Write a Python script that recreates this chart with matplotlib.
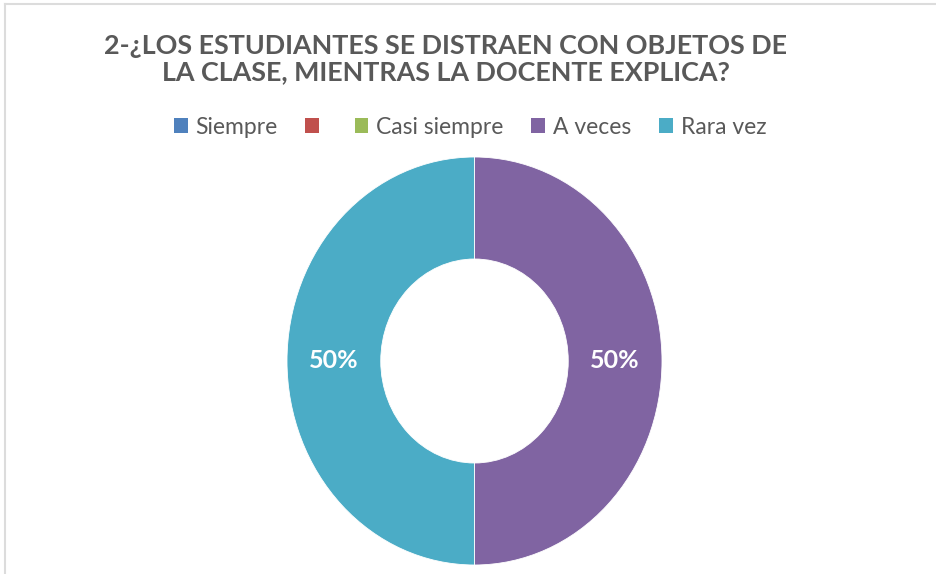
import matplotlib
matplotlib.use("Agg")
import matplotlib.pyplot as plt
from matplotlib.lines import Line2D
from matplotlib.patches import Patch

categories = ["Siempre", "", "Casi siempre", "A veces", "Rara vez"]
values = [0, 0, 0, 50, 50]
colors = ["#4F81BD", "#C0504D", "#9BBB59", "#8064A2", "#4BACC6"]
title = "2-¿LOS ESTUDIANTES SE DISTRAEN CON OBJETOS DE\nLA CLASE, MIENTRAS LA DOCENTE EXPLICA?"

plt.rcParams["font.family"] = ["Lato", "DejaVu Sans"]

W, H = 937, 574
fig = plt.figure(figsize=(W / 100, H / 100), dpi=100)

# chart area frame (top and left edges)
fig.add_artist(Line2D([5 / W, 5 / W], [0, 1 - 4 / H], color="#dcdcdc", lw=1.5,
                      transform=fig.transFigure))
fig.add_artist(Line2D([5 / W, 1], [1 - 4 / H, 1 - 4 / H], color="#dcdcdc", lw=1.5,
                      transform=fig.transFigure))

# doughnut: plot area is taller than wide, so the ring is an ellipse
ax = fig.add_axes([287 / W, 9 / H, 375 / W, 408 / H])
nz = [(v, c) for v, c in zip(values, colors) if v > 0]
wedges, _, autotexts = ax.pie(
    [v for v, _ in nz],
    colors=[c for _, c in nz],
    startangle=90,
    counterclock=False,
    radius=1,
    wedgeprops=dict(width=0.5, edgecolor="white", linewidth=0.6),
    autopct=lambda p: f"{p:.0f}%",
    pctdistance=0.75,
)
for t in autotexts:
    t.set_color("white")
    t.set_fontsize(18)
    t.set_fontweight("bold")
ax.set_aspect("auto")
ax.set_xlim(-1, 1)
ax.set_ylim(-1, 1)
ax.axis("off")

fig.text(446 / W, 1 - 59 / H, title, ha="center", va="center",
         fontsize=19.4, fontweight="bold", color="#595959", linespacing=1.15)

handles = [Patch(facecolor=c, edgecolor="none") for c in colors]
fig.legend(handles, categories, loc="center", bbox_to_anchor=(470 / W, 1 - 127 / H),
           ncol=5, frameon=False, fontsize=16.5, handlelength=0.6, handleheight=0.6,
           handletextpad=0.35, columnspacing=1.2, labelcolor="#595959")

fig.savefig("out.png", dpi=100, facecolor="white")
